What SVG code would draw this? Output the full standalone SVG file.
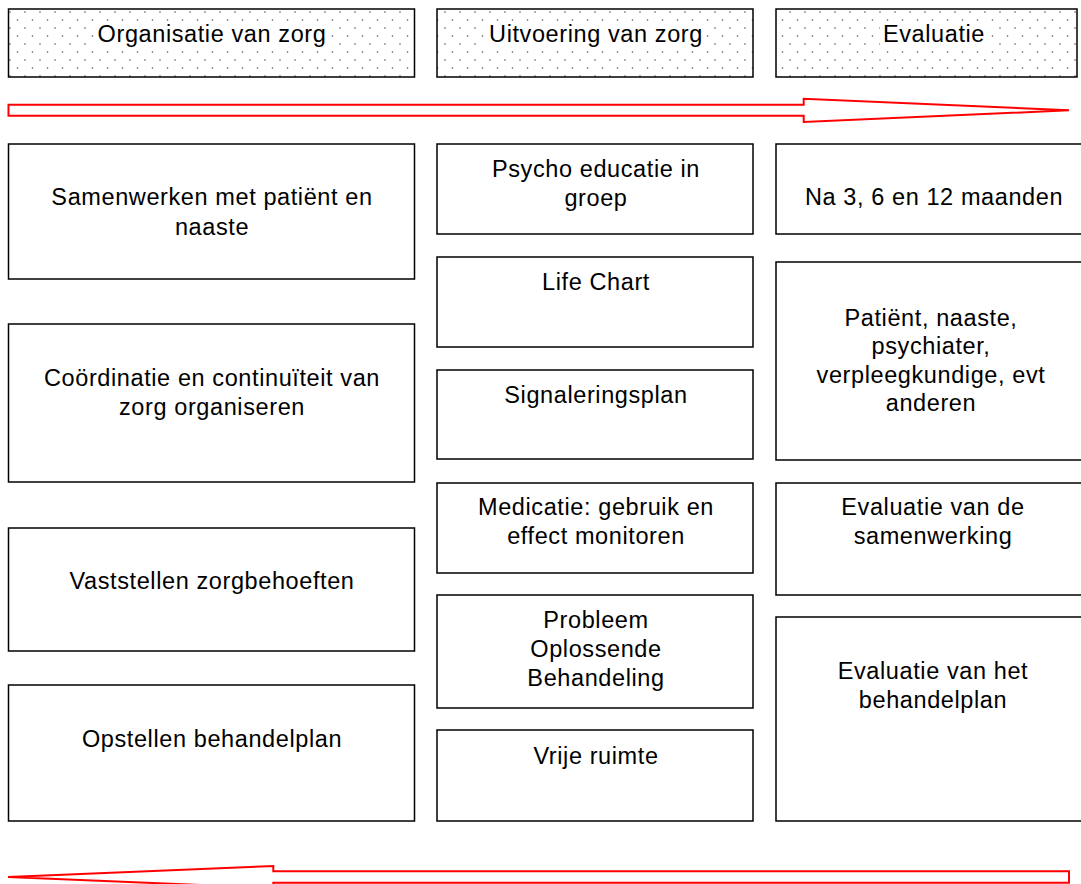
<svg xmlns="http://www.w3.org/2000/svg" width="1081" height="884" viewBox="0 0 1081 884">
<style>
.box{fill:#fff;stroke:#000;stroke-width:1.5}
.hdr{fill:url(#dots);stroke:#000;stroke-width:1.5}
.arr{fill:#fff;stroke:#ff0000;stroke-width:2}
text{font-family:"Liberation Sans",Arial,sans-serif;font-size:23.5px;letter-spacing:0.6px;fill:#000;text-anchor:middle}
</style>
<defs>
<pattern id="dots" width="15" height="16" patternUnits="userSpaceOnUse" x="8" y="9">
<rect width="15" height="16" fill="#fff"/>
<circle cx="2" cy="3" r="0.8" fill="#555"/>
<circle cx="9.5" cy="11" r="0.8" fill="#555"/>
</pattern>
</defs>
<g id="headers">
<g id="h1"><rect class="hdr" x="8.5" y="9" width="406" height="68"/><rect x="94" y="21" width="236" height="27" fill="#fff"/><text x="212" y="42">Organisatie van zorg</text></g>
<g id="h2"><rect class="hdr" x="437" y="9" width="316" height="68"/><rect x="484" y="21" width="222" height="27" fill="#fff"/><text x="596" y="42">Uitvoering van zorg</text></g>
<g id="h3"><rect class="hdr" x="776" y="9" width="301" height="68"/><rect x="880" y="21" width="108" height="27" fill="#fff"/><text x="934" y="42">Evaluatie</text></g>
</g>
<g id="connectors">
<path class="arr" d="M8.5,104.7 H803.7 V98.7 L1069,110.3 L803.7,122 V115.7 H8.5 Z"/>
<path class="arr" d="M1069,871.3 H273.3 V866 L8,877 L273.3,888 V882.7 H1069 Z"/>
</g>
<g id="left">
<g id="l1"><rect class="box" x="8.5" y="144" width="406" height="135"/><text x="212" y="205">Samenwerken met patiënt en</text><text x="212" y="235">naaste</text></g>
<g id="l2"><rect class="box" x="8.5" y="324" width="406" height="158"/><text x="212" y="386">Coördinatie en continuïteit van</text><text x="212" y="415">zorg organiseren</text></g>
<g id="l3"><rect class="box" x="8.5" y="528" width="406" height="123"/><text x="212" y="589">Vaststellen zorgbehoeften</text></g>
<g id="l4"><rect class="box" x="8.5" y="685" width="406" height="136"/><text x="212" y="747">Opstellen behandelplan</text></g>
</g>
<g id="middle">
<g id="m1"><rect class="box" x="437" y="144" width="316" height="90"/><text x="596" y="177">Psycho educatie in</text><text x="596" y="206">groep</text></g>
<g id="m2"><rect class="box" x="437" y="257" width="316" height="90"/><text x="596" y="290">Life Chart</text></g>
<g id="m3"><rect class="box" x="437" y="370" width="316" height="89"/><text x="596" y="403">Signaleringsplan</text></g>
<g id="m4"><rect class="box" x="437" y="483" width="316" height="90"/><text x="596" y="515">Medicatie: gebruik en</text><text x="596" y="544">effect monitoren</text></g>
<g id="m5"><rect class="box" x="437" y="595" width="316" height="113"/><text x="596" y="628">Probleem</text><text x="596" y="657">Oplossende</text><text x="596" y="686">Behandeling</text></g>
<g id="m6"><rect class="box" x="437" y="730" width="316" height="91"/><text x="596" y="764">Vrije ruimte</text></g>
</g>
<g id="right">
<g id="r1"><rect class="box" x="776" y="144" width="320" height="90"/><text x="934" y="205">Na 3, 6 en 12 maanden</text></g>
<g id="r2"><rect class="box" x="776" y="262" width="320" height="198"/><text x="931" y="326">Patiënt, naaste,</text><text x="931" y="354">psychiater,</text><text x="931" y="383">verpleegkundige, evt</text><text x="931" y="411">anderen</text></g>
<g id="r3"><rect class="box" x="776" y="483" width="320" height="112"/><text x="933" y="515">Evaluatie van de</text><text x="933" y="544">samenwerking</text></g>
<g id="r4"><rect class="box" x="776" y="617" width="320" height="204"/><text x="933" y="679">Evaluatie van het</text><text x="933" y="708">behandelplan</text></g>
</g>
</svg>
